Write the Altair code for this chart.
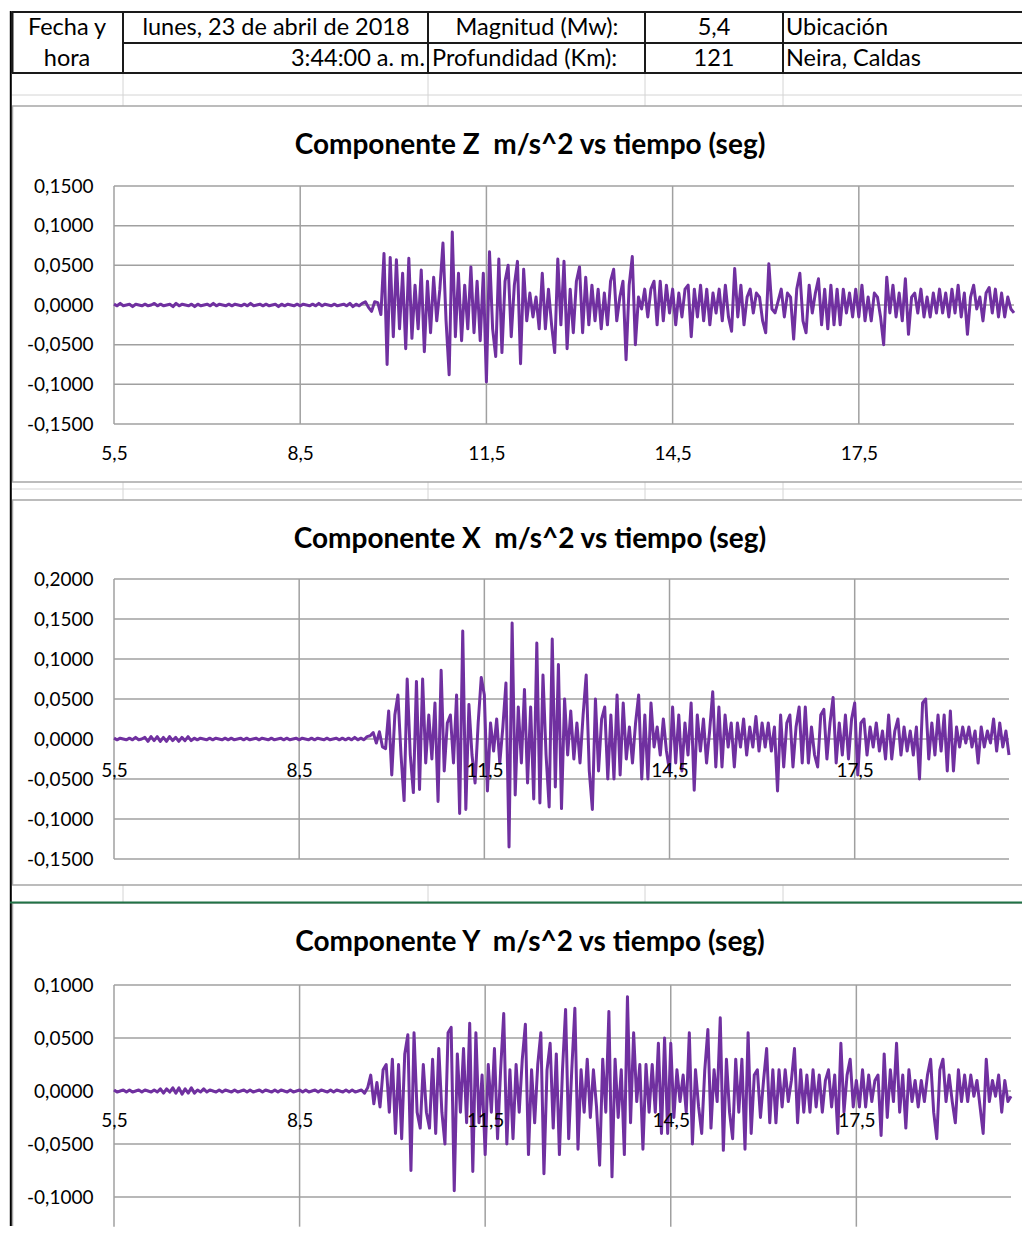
import altair as alt
import pandas as pd

FONT = "Lato"
PURPLE = "#7030A0"
GRID = "#a0a0a0"
BORDER = "#a6a6a6"

# ---------------- data ----------------
T_START = 5.5
T_STEP = 0.05
T_END = 20.0
X_TICKS = [5.5, 8.5, 11.5, 14.5, 17.5]
Z_YTICKS = [-0.15, -0.10, -0.05, 0.0, 0.05, 0.10, 0.15]
X_YTICKS = [-0.15, -0.10, -0.05, 0.0, 0.05, 0.10, 0.15, 0.20]
Y_YTICKS = [-0.10, -0.05, 0.0, 0.05, 0.10]

# accelerations in thousandths of m/s^2, one value every 0.05 s from 5.5 s
Z_QUIET = [1, -1, 2, -1, 0, 1, -2, 1, 0, -1,
           1, -1, 0, 2, -1, 1, -1, 0, 1, -2,
           2, -1, 1, 0, -1, 1, -2, 1, -1, 0,
           1, -1, 2, -1, 1, 0, -1, 1, -1, 1,
           0, -1, 1, -1, 2, -1, 0, 1, -1, 1,
           -1, 0, 1, -2, 1, -1, 1, 0, -1, 1,
           -1, 1, 0, -1, 1, -1, 2, -1, 1, 0,
           -1, 1, -1, 0, 1, -1, 2, -2, 1, -1]
Z_ACTIVE = [2, 4, -3, -8, 4, 3, -12, 65, -75, 60,
            -40, 57, -30, 40, -55, 59, -42, 25, -30, 44,
            -59, 30, -35, 35, -20, 20, 78, -20, -88, 92,
            -40, 40, -45, 25, -30, 48, -35, 30, -45, 40,
            -97, 67, -30, -65, 58, -60, 30, 50, -40, 25,
            55, -74, 45, -20, 15, -15, 10, -30, 40, -30,
            20, -25, -60, 58, -25, 55, -55, 20, -35, 30,
            48, -35, 35, -25, 25, -20, 20, -30, 15, -25,
            30, 45, -20, 10, 30, -69, 25, 61, -50, 10,
            -5, 20, -15, 20, 30, -25, 30, -20, 25, -10,
            20, -25, 15, -15, 20, 25, -40, 20, -15, 25,
            -20, 20, -25, 15, -10, 20, -20, 25, -15, -33,
            46, -15, 25, -25, 10, 20, -10, 15, 10, -20,
            -35, 52, -5, -10, 5, 20, -15, 15, 10, -43,
            20, 40, -20, -35, 25, -10, 15, 33, -25, 20,
            -30, 25, -25, 20, -25, 20, -10, 15, -15, 20,
            -15, 25, -20, 10, -20, 15, 10, -15, -50, 35,
            -10, 25, -15, 15, -20, 33, -37, 10, 15, -10,
            20, -15, 10, -15, 15, -10, 20, -10, 15, -15,
            20, -10, 25, -15, 15, -37, 10, 25, -5, 10,
            -20, 15, 22, -10, 20, -15, 15, -15, 10, -5,
            -10]

X_QUIET = [1, -1, 1, 0, -1, 1, -1, 2, -1, 0,
           2, -3, 3, -2, 3, -3, 2, -3, 3, -2,
           2, -3, 2, -2, 3, -2, 1, -1, 1, 0,
           -1, 1, -1, 1, 0, -1, 1, -1, 1, -1,
           0, 1, -1, 1, -1, 0, 1, -1, 1, 0,
           -1, 1, -1, 0, 1, -1, 1, -1, 0, 1,
           -1, 1, 0, -1, 1, -1, 1, 0, -1, 1,
           -1, 0, 1, -1, 1, -1, 1, -1, 2, -1]
X_ACTIVE = [1, -1, 3, 4, 8, -5, 9, -10, -12, 35,
            -45, 30, 55, -20, -77, 75, -20, -67, 72, -63,
            75, -30, 30, -25, 45, -78, 86, -40, 20, 30,
            -30, 55, -93, 135, -88, 43, -20, -55, 20, 77,
            55, -65, 20, -15, 25, -30, 15, 70, -135, 145,
            -70, 40, -30, 62, -55, 40, -75, 120, -80, 80,
            -20, -85, 125, -60, 93, -87, 50, -20, 35, -25,
            20, -30, 30, 80, -40, -88, 50, -40, 25, 40,
            -50, 30, -50, 55, -45, 45, -25, 15, -30, 20,
            55, -50, 30, -50, 45, -10, 15, -20, 25, -15,
            -40, 40, -30, 30, -40, 20, -20, 45, -64, 30,
            -15, 25, -30, 10, 59, -35, 40, -35, 30, -10,
            20, -35, 20, -10, 25, -20, 15, -10, 28, -15,
            20, -10, 20, -15, 15, -65, 30, -35, 20, 30,
            -35, 15, 40, -30, 40, -30, 15, -20, -35, 30,
            37, -25, 20, 52, -30, 20, -20, 30, -25, 25,
            45, -45, 20, 25, -20, 15, -10, 20, -15, 10,
            -25, 30, -25, 10, 25, -20, 15, -15, 10, -20,
            15, -50, 45, 50, -25, 20, -20, 30, -15, 30,
            -40, 35, -40, 15, -10, 15, -5, 15, -10, 10,
            -30, 15, -10, 10, -5, 25, -15, 20, -10, 10,
            -20]

Y_QUIET = [1, -1, 0, 1, -1, 1, -1, 0, 1, -1,
           1, 0, -1, 1, -1, 2, -2, 2, -1, 3,
           -2, 3, -3, 2, -2, 3, -2, 1, -1, 2,
           -1, 1, 0, -1, 1, -1, 1, 0, -1, 1,
           -1, 0, 1, -1, 1, -1, 0, 1, -1, 1,
           0, -1, 1, -1, 1, 0, -1, 1, -1, 0,
           1, -1, 1, -1, 0, 1, -1, 1, 0, -1,
           1, -1, 1, 0, -1, 1, -1, 1, -1, 0]
Y_ACTIVE = [1, -2, 3, 15, -12, 8, -15, 20, 25, -20,
            30, -40, 25, -45, 35, 53, -75, 55, -20, -35,
            25, -20, -35, 30, -40, 40, -20, -50, 55, 60,
            -94, 35, -20, 40, -30, 64, -76, 55, -30, 15,
            -60, 25, -20, 40, -45, 20, 73, -50, 20, -45,
            25, -20, 30, 63, -60, 20, -30, 25, 55, -78,
            20, 45, -35, 35, -60, 20, 77, -45, 20, 78,
            -55, 20, -20, 30, -25, 20, -15, -70, 30, -20,
            75, -81, 30, -25, 20, -60, 89, -30, 55, -10,
            25, -55, 25, -20, 25, -20, 45, -40, 50, -40,
            45, -25, 20, -10, 15, -20, 55, -50, 20, -15,
            -40, 20, 58, -35, 20, -10, 69, -56, 30, -20,
            -45, 30, -20, 30, -55, 55, -40, 15, 20, -25,
            10, 40, -30, 20, -30, 20, -15, 20, -10, 10,
            40, -30, 20, -20, 15, -20, 20, -15, 15, -20,
            10, 20, -15, 15, -40, 45, -20, 15, 30, -15,
            10, -15, 20, -15, 15, -10, 10, 15, -42, 35,
            -25, 20, -10, 45, -20, 15, -35, 20, -10, 10,
            -15, 10, -10, 15, 30, -20, -45, 20, 30, -10,
            15, -10, -30, 20, -10, 15, -10, 15, -5, 10,
            -15, -40, 30, -10, 10, -5, 15, -20, 10, -10,
            -5]

TITLES = ["Componente Z\u00a0 m/s^2 vs tiempo (seg)",
          "Componente X\u00a0 m/s^2 vs tiempo (seg)",
          "Componente Y\u00a0 m/s^2 vs tiempo (seg)"]

TEXT_CENTER = ["Fecha y", "hora", "lunes, 23 de abril de 2018", "Magnitud (Mw):", "5,4", "121"]
TEXT_RIGHT = ["3:44:00 a. m."]
TEXT_LEFT = ["Profundidad (Km):", "Ubicación", "Neira, Caldas"]

# ---------------- layout (page pixels) ----------------
ORIGIN_X = 13          # page x where the views start (after the edge line)
RIGHT = 1021
BOTTOM = 1226
POS_CENTER = [(66, 28), (66, 59), (275, 28), (536, 28), (713, 28), (713, 59)]
POS_RIGHT = [(424, 59)]
POS_LEFT = [(431, 59), (785, 28), (785, 59)]
TABLE_LINES = [  # x, x2, y, y2
    (11, RIGHT, 12, 12), (11, RIGHT, 73, 73), (11.5, 11.5, 12, 73),
    (122, RIGHT, 43, 43), (122, 122, 12, 73), (427, 427, 12, 73),
    (644, 644, 12, 73), (782, 782, 12, 73)]
CELL_LINES = []
for _x in (122, 427, 644, 782):
    for _a, _b in ((73, 106), (482, 500), (885, 903)):
        CELL_LINES.append((_x, _x, _a, _b))
CELL_LINES += [(11, RIGHT, 95, 95), (11, RIGHT, 489, 489)]
PANEL_LINES = []
for _t, _b in ((106, 482), (500, 885), (903, BOTTOM)):
    PANEL_LINES += [(11, RIGHT, _t, _t), (11.5, 11.5, _t, _b)]
    if _b < BOTTOM:
        PANEL_LINES.append((11, RIGHT, _b, _b))
EDGE_LINE = [(9.8, 9.8, 11, BOTTOM)]
GREEN_LINE = [(9, RIGHT, 902.5, 902.5)]

PANEL_W = RIGHT - ORIGIN_X
LAYOUT = {
    "Z": dict(h=376, x_rng=[113 - ORIGIN_X, 1013 - ORIGIN_X], y_rng=[318, 80], xoff=-29, low=-0.15),
    "X": dict(h=385, x_rng=[113 - ORIGIN_X, 1008 - ORIGIN_X], y_rng=[359, 79], xoff=-115, low=-0.15),
    "Y": dict(h=BOTTOM - 903, x_rng=[113 - ORIGIN_X, 1010 - ORIGIN_X], y_rng=[347, 82],
              xoff=-(BOTTOM - 1120), low=-0.128),
}

XLABEL_EXPR = "replace(format(datum.value, '.1f'), '.', ',')"
YLABEL_EXPR = "(datum.value < 0 ? '-' : '') + replace(format(abs(datum.value), '.4f'), '.', ',')"


def panel(vals, y_ticks, y_dom, lay, title):
    df = pd.DataFrame({"t": [round(T_START + T_STEP * i, 2) for i in range(len(vals))],
                       "a": [v / 1000 for v in vals]})
    xs = alt.Scale(domain=[T_START, T_END], range=lay["x_rng"], nice=False, zero=False)
    ys = alt.Scale(domain=y_dom, range=lay["y_rng"], nice=False, zero=False)
    xax = alt.Axis(values=X_TICKS, labelExpr=XLABEL_EXPR, title=None, domain=False, ticks=False,
                   tickSize=0, grid=False, labelPadding=0, offset=lay["xoff"], labelFont=FONT,
                   labelFontSize=19, labelColor="#000000", labelBaseline="middle", labelAlign="center",
                   labelFlush=False, labelOverlap=False, labelBound=False, zindex=1)
    yax = alt.Axis(values=y_ticks, labelExpr=YLABEL_EXPR, title=None, domain=False, ticks=False,
                   tickSize=0, grid=False, labelPadding=0, offset=-(92 - ORIGIN_X), labelFont=FONT,
                   labelFontSize=19, labelColor="#000000", labelFlush=False, labelOverlap=False,
                   labelBound=False, zindex=1)
    hg = pd.DataFrame({"v": y_ticks, "lo": [T_START] * len(y_ticks), "hi": [T_END] * len(y_ticks)})
    vg = pd.DataFrame({"v": X_TICKS, "lo": [lay["low"]] * len(X_TICKS), "hi": [y_dom[1]] * len(X_TICKS)})
    hrule = alt.Chart(hg).mark_rule(color=GRID, strokeWidth=1.5).encode(
        x=alt.X("lo:Q", scale=xs, axis=xax), x2="hi:Q", y=alt.Y("v:Q", scale=ys, axis=yax))
    vrule = alt.Chart(vg).mark_rule(color=GRID, strokeWidth=1.5).encode(
        x=alt.X("v:Q", scale=xs, axis=xax), y=alt.Y("lo:Q", scale=ys, axis=yax), y2="hi:Q")
    line = alt.Chart(df).mark_line(color=PURPLE, strokeWidth=3, strokeJoin="round").encode(
        x=alt.X("t:Q", scale=xs, axis=xax), y=alt.Y("a:Q", scale=ys, axis=yax))
    return alt.layer(hrule, vrule, line).properties(
        width=PANEL_W, height=lay["h"],
        title=alt.TitleParams(title, font=FONT, fontSize=28, fontWeight="bold", color="#000000",
                              anchor="middle", frame="group", offset=-54,
                              dx=529 - (ORIGIN_X + PANEL_W / 2)),
        view=alt.ViewBackground(stroke="transparent"))


def seg_df(segs):
    return pd.DataFrame({"x": [s[0] for s in segs], "x2": [s[1] for s in segs],
                         "y": [s[2] for s in segs], "y2": [s[3] for s in segs]})


PXX = alt.Scale(domain=[ORIGIN_X, RIGHT], range=[0, PANEL_W], nice=False, zero=False)
PXY = alt.Scale(domain=[12, 88], range=[0, 76], nice=False, zero=False)


def seg_layer(segs, color, width):
    return alt.Chart(seg_df(segs)).mark_rule(color=color, strokeWidth=width).encode(
        x=alt.X("x:Q", scale=PXX, axis=None), x2="x2:Q",
        y=alt.Y("y:Q", scale=PXY, axis=None), y2="y2:Q")


def text_layer(texts, pos, align):
    d = pd.DataFrame({"txt": texts, "x": [p[0] for p in pos], "y": [p[1] for p in pos]})
    return alt.Chart(d).mark_text(align=align, baseline="middle", font=FONT, fontSize=23.5,
                                  color="#000000").encode(
        x=alt.X("x:Q", scale=PXX, axis=None), y=alt.Y("y:Q", scale=PXY, axis=None), text="txt:N")


table = alt.layer(
    seg_layer(CELL_LINES, "#d4d4d4", 1),
    seg_layer(PANEL_LINES, BORDER, 1.5),
    seg_layer(TABLE_LINES, "#1a1a1a", 2),
    seg_layer(EDGE_LINE, "#000000", 2),
    seg_layer(GREEN_LINE, "#217346", 2),
    text_layer(TEXT_CENTER, POS_CENTER, "center"),
    text_layer(TEXT_RIGHT, POS_RIGHT, "right"),
    text_layer(TEXT_LEFT, POS_LEFT, "left"),
).properties(width=PANEL_W, height=76, view=alt.ViewBackground(stroke="transparent"))

pz = panel(Z_QUIET + Z_ACTIVE, Z_YTICKS, [-0.15, 0.15], LAYOUT["Z"], TITLES[0])
px = panel(X_QUIET + X_ACTIVE, X_YTICKS, [-0.15, 0.20], LAYOUT["X"], TITLES[1])
py = panel(Y_QUIET + Y_ACTIVE, Y_YTICKS, [-0.15, 0.10], LAYOUT["Y"], TITLES[2])

chart = alt.vconcat(table, pz, px, py, spacing=18, bounds="flush").properties(
    padding={"left": 0, "top": 1, "right": 0, "bottom": 0}
).configure(background="white")

chart.save("out.html", embed_options={"renderer": "svg", "actions": False})
